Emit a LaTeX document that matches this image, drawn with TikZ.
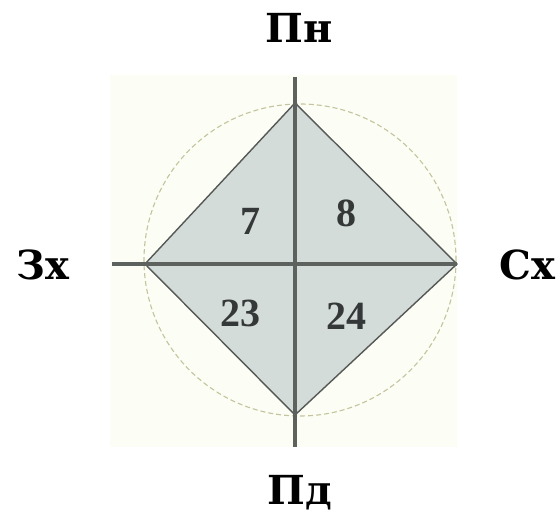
\documentclass[tikz,border=0pt]{standalone}
\usepackage{fontspec}
\setmainfont{Liberation Serif}
\newfontfamily\labfont{DejaVu Serif}
\definecolor{cream}{HTML}{FCFDF4}
\definecolor{dfill}{HTML}{D4DCD9}
\definecolor{axisc}{HTML}{5E625F}
\definecolor{circc}{HTML}{C4C49E}
\definecolor{numc}{HTML}{353838}
\begin{document}
\begin{tikzpicture}[x=1pt,y=-1pt,
  lab/.style={font=\labfont\bfseries\fontsize{40}{40}\selectfont, anchor=base, inner sep=0pt},
  num/.style={font=\fontsize{40}{40}\selectfont\bfseries, text=numc, anchor=base, inner sep=0pt},
  axisline/.style={line width=4pt, draw=axisc},
  edge/.style={line width=1.4pt, draw=axisc!90!black}]
\useasboundingbox (0,0) rectangle (558,518);
\fill[cream] (110,75) rectangle (457,447);
\begin{scope}
\clip (110,75) rectangle (457,447);
\draw[circc, line width=1.1pt, dash pattern=on 5pt off 3pt] (300,260) circle[radius=156];
\end{scope}
\coordinate (T) at (295,103);
\coordinate (B) at (295,415);
\coordinate (L) at (145,264);
\coordinate (R) at (457,264);
\coordinate (C) at (295,264);
\coordinate (VT) at (295,77);
\coordinate (VB) at (295,447);
\coordinate (HL) at (112,264);
\filldraw[fill=dfill, edge, line join=miter] (T) -- (R) -- (B) -- (L) -- cycle;
\draw[axisline] (VT) -- (VB);
\draw[axisline] (HL) -- (R);
\node[num] (n7) at (250,235) {7};
\node[num] (n8) at (346,227) {8};
\node[num] (n23) at (240,327) {23};
\node[num] (n24) at (346,330) {24};
\node[lab] (pn) at (299,43) {Пн};
\node[lab] (zx) at (43,280) {Зх};
\node[lab] (sx) at (527,280) {Сх};
\node[lab] (pd) at (300,505) {Пд};
\end{tikzpicture}
\end{document}
